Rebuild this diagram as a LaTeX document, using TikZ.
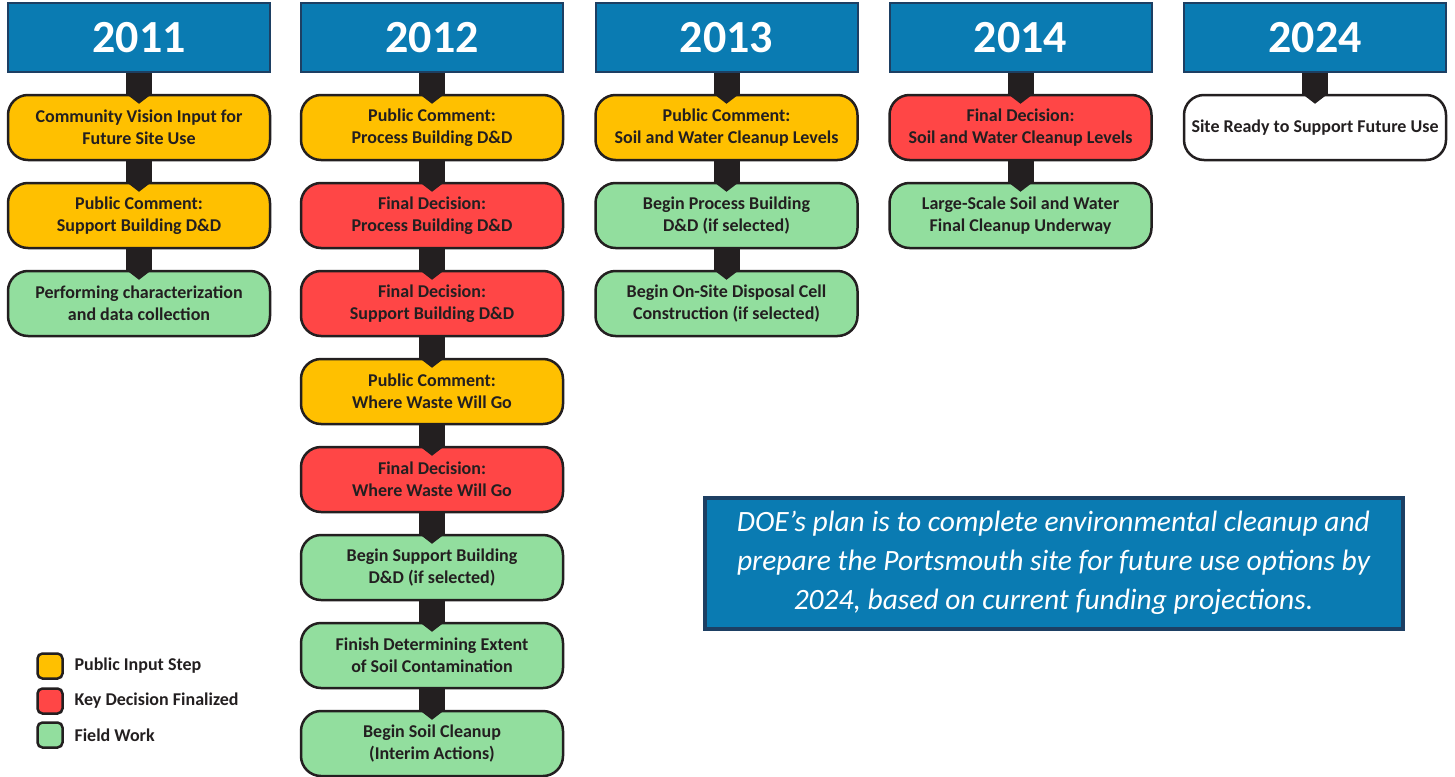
\documentclass[tikz,border=0pt]{standalone}
\usepackage{fontspec}
\setmainfont{Carlito}
\usepackage{tikz}
\usetikzlibrary{shapes.geometric, arrows.meta}
\definecolor{yearblue}{HTML}{0A7BB2}
\definecolor{navy}{HTML}{1D3F63}
\definecolor{ink}{HTML}{231F20}
\definecolor{inputyellow}{HTML}{FFC000}
\definecolor{decisionred}{HTML}{FF4646}
\definecolor{fieldgreen}{HTML}{92DE9E}
\tikzstyle{yearbox} = [rectangle, minimum width=262pt, minimum height=69pt, inner sep=2pt, draw=navy, line width=2pt, fill=yearblue, text=white, font=\bfseries\fontsize{46}{50}\selectfont]
\tikzstyle{stepbox} = [rectangle, rounded corners=20pt, minimum width=262pt, minimum height=65pt, inner sep=1pt, draw=ink, line width=2.5pt, align=center, text=ink, font=\bfseries\fontsize{18}{22}\selectfont]
\tikzstyle{inputstep} = [stepbox, fill=inputyellow]
\tikzstyle{decisionstep} = [stepbox, fill=decisionred]
\tikzstyle{fieldstep} = [stepbox, fill=fieldgreen]
\tikzstyle{readystep} = [stepbox, fill=white]
\tikzstyle{keybox} = [rectangle, rounded corners=5pt, minimum width=25pt, minimum height=25pt, draw=ink, line width=2.5pt]
\tikzstyle{keytext} = [anchor=west, text=ink, font=\bfseries\fontsize{18}{20}\selectfont]
\tikzstyle{planbox} = [rectangle, minimum width=698pt, minimum height=131pt, draw=navy, line width=4pt, fill=yearblue, text=white, align=center, font=\itshape\fontsize{29.5}{39}\selectfont]
\tikzstyle{link} = [line width=26pt, draw=ink, -{Triangle[width=26pt,length=10pt,line width=0pt]}, shorten >=-10pt]

\begin{document}
\begin{tikzpicture}[x=1pt, y=1pt, node distance=88pt]
		\useasboundingbox (0,0) rectangle (1455,-776);
		% years
		\node (y2011) [yearbox] at (139,-37.5) {2011};
		\node (y2012) [yearbox] at (432,-37.5) {2012};
		\node (y2013) [yearbox] at (726.5,-37.5) {2013};
		\node (y2014) [yearbox] at (1020.5,-37.5) {2014};
		\node (y2024) [yearbox] at (1315,-37.5) {2024};
		% 2011
		\node (a1) [inputstep, below of=y2011, yshift=-2pt] {Community Vision Input for\\Future Site Use};
		\node (a2) [inputstep, below of=a1] {Public Comment:\\Support Building D\&D};
		\node (a3) [fieldstep, below of=a2] {Performing characterization\\and data collection};
		% 2012
		\node (b1) [inputstep, below of=y2012, yshift=-2pt] {Public Comment:\\Process Building D\&D};
		\node (b2) [decisionstep, below of=b1] {Final Decision:\\Process Building D\&D};
		\node (b3) [decisionstep, below of=b2] {Final Decision:\\Support Building D\&D};
		\node (b4) [inputstep, below of=b3] {Public Comment:\\Where Waste Will Go};
		\node (b5) [decisionstep, below of=b4] {Final Decision:\\Where Waste Will Go};
		\node (b6) [fieldstep, below of=b5] {Begin Support Building\\D\&D (if selected)};
		\node (b7) [fieldstep, below of=b6] {Finish Determining Extent\\of Soil Contamination};
		\node (b8) [fieldstep, below of=b7] {Begin Soil Cleanup\\(Interim Actions)};
		% 2013
		\node (c1) [inputstep, below of=y2013, yshift=-2pt] {Public Comment:\\Soil and Water Cleanup Levels};
		\node (c2) [fieldstep, below of=c1] {Begin Process Building\\D\&D (if selected)};
		\node (c3) [fieldstep, below of=c2] {Begin On-Site Disposal Cell\\Construction (if selected)};
		% 2014
		\node (d1) [decisionstep, below of=y2014, yshift=-2pt] {Final Decision:\\Soil and Water Cleanup Levels};
		\node (d2) [fieldstep, below of=d1] {Large-Scale Soil and Water\\Final Cleanup Underway};
		% 2024
		\node (e1) [readystep, below of=y2024, yshift=-2pt] {Site Ready to Support Future Use};
		% links
		\draw [link] (y2011) -- (a1);
		\draw [link] (a1) -- (a2);
		\draw [link] (a2) -- (a3);
		\draw [link] (y2012) -- (b1);
		\draw [link] (b1) -- (b2);
		\draw [link] (b2) -- (b3);
		\draw [link] (b3) -- (b4);
		\draw [link] (b4) -- (b5);
		\draw [link] (b5) -- (b6);
		\draw [link] (b6) -- (b7);
		\draw [link] (b7) -- (b8);
		\draw [link] (y2013) -- (c1);
		\draw [link] (c1) -- (c2);
		\draw [link] (c2) -- (c3);
		\draw [link] (y2014) -- (d1);
		\draw [link] (d1) -- (d2);
		\draw [link] (y2024) -- (e1);
		% key
		\node (keyinput) [keybox, fill=inputyellow] at (50,-666) {};
		\node (keydecision) [keybox, fill=decisionred] at (50,-701) {};
		\node (keyfield) [keybox, fill=fieldgreen] at (50,-735) {};
		\node (keyinputtext) [keytext] at (71,-666) {Public Input Step};
		\node (keydecisiontext) [keytext] at (71,-701) {Key Decision Finalized};
		\node (keyfieldtext) [keytext] at (71,-735) {Field Work};
		% plan note
		\node (plan) [planbox] at (1053.5,-563) {DOE’s plan is to complete environmental cleanup and\\prepare the Portsmouth site for future use options by\\2024, based on current funding projections.};
		\end{tikzpicture}
\end{document}
